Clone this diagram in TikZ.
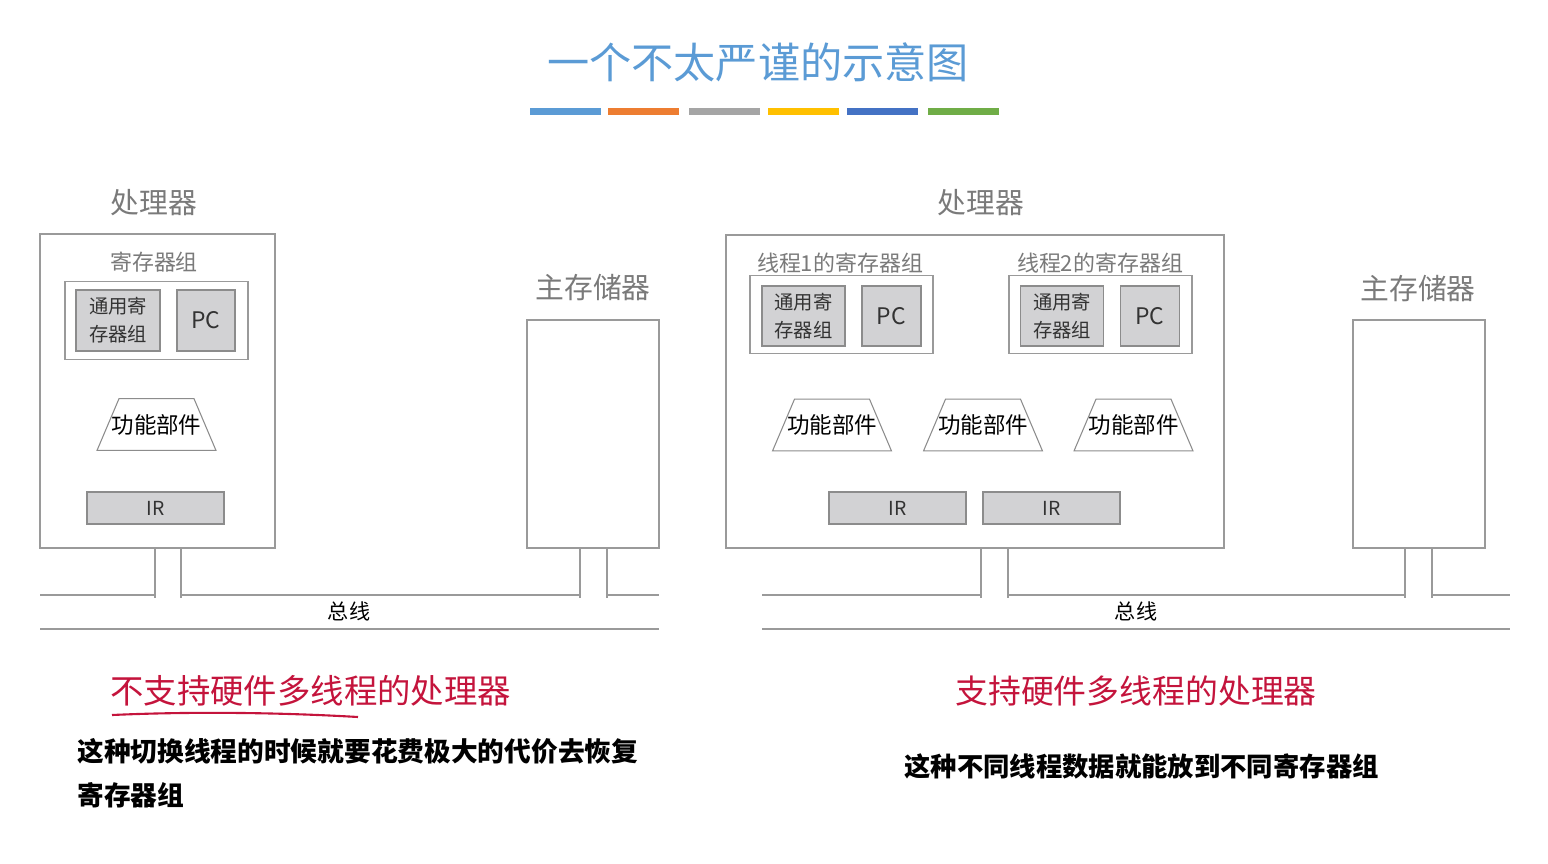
\documentclass[tikz,border=0pt]{standalone}
\usepackage{fontspec}
\setmainfont{Noto Sans CJK SC}
\usetikzlibrary{shapes.geometric, positioning}
\usepackage{xcolor}
\definecolor{TitleBlue}{HTML}{5B9BD5}
\definecolor{BarBlue}{HTML}{5B9BD5}
\definecolor{BarOrange}{HTML}{ED7D31}
\definecolor{BarGray}{HTML}{A5A5A5}
\definecolor{BarGold}{HTML}{FFC000}
\definecolor{BarNavy}{HTML}{4472C4}
\definecolor{BarGreen}{HTML}{70AD47}
\definecolor{LineGray}{HTML}{9A9A9A}
\definecolor{LabelGray}{HTML}{7A7A7A}
\definecolor{CellGray}{HTML}{D2D2D4}
\definecolor{CellEdge}{HTML}{8C8C8C}
\definecolor{CaptionRed}{HTML}{C4143C}
\tikzset{
    % Boxes - thin grey outlines
    cpubox/.style={
        rectangle,
        draw=LineGray,
        line width=0.8pt,
        fill=white
    },
    regbox/.style={
        rectangle,
        draw=LineGray,
        line width=0.8pt,
        fill=white,
        minimum width=3.66cm,
        minimum height=1.56cm
    },
    cell/.style={
        rectangle,
        draw=CellEdge,
        fill=CellGray,
        line width=0.6pt,
        align=center,
        text=black!80,
        font=\fontsize{11}{16}\selectfont
    },
    unit/.style={
        trapezium,
        trapezium angle=67,
        trapezium stretches body=true,
        draw=CellEdge,
        fill=white,
        line width=0.6pt,
        inner xsep=-0.15cm,
        inner ysep=0.31cm,
        font=\fontsize{12.8}{14}\selectfont
    },
    irbox/.style={
        cell,
        minimum width=2.74cm,
        minimum height=0.64cm,
        inner sep=0pt
    },
    membox/.style={
        cpubox,
        minimum width=2.64cm,
        minimum height=4.56cm
    },
    bigtitle/.style={
        text=LabelGray,
        font=\fontsize{16.4}{18}\selectfont
    },
    smalltitle/.style={
        text=LabelGray,
        font=\fontsize{12.5}{14}\selectfont
    },
    % Bus lines
    bus/.style={
        draw=LineGray,
        line width=0.8pt
    },
    bar/.style={
        line width=0.14cm
    }
}

\begin{document}
\begin{tikzpicture}[x=0.02cm, y=-0.02cm]
    \useasboundingbox (0,0) rectangle (1548,863);

    % Heading
    \node[text=TitleBlue, font=\fontsize{24}{28}\selectfont] (title) at (758,62) {一个不太严谨的示意图};
    \draw[bar, BarBlue]   (530,111) -- (601,111);
    \draw[bar, BarOrange] (608,111) -- (679,111);
    \draw[bar, BarGray]   (689,111) -- (760,111);
    \draw[bar, BarGold]   (768,111) -- (839,111);
    \draw[bar, BarNavy]   (847,111) -- (918,111);
    \draw[bar, BarGreen]  (928,111) -- (999,111);

    % Left: processor without hardware threads
    \node[bigtitle] (cpuLtitle) at (154,203) {处理器};
    \node[cpubox, minimum width=4.7cm, minimum height=6.28cm] (cpuL) at (157.5,391) {};
    \node[smalltitle] (regLtitle) at (154,262) {寄存器组};
    \node[regbox] (regL) at (156.5,320.5) {};
    \node[cell, minimum width=1.68cm, minimum height=1.22cm] (gprL) at (118,320.5) {通用寄\\存器组};
    \node[cell, minimum width=1.16cm, minimum height=1.22cm, font=\fontsize{13}{15}\selectfont] (pcL) at (206,320.5) {PC};
    \node[unit] (fuL) at (156.5,424.5) {功能部件};
    \node[irbox] (irL) at (155.5,508) {IR};

    \node[bigtitle] (memLtitle) at (593,288) {主存储器};
    \node[membox] (memL) at (593,434) {};

    % Left bus
    \coordinate (tapL1) at (155,598);
    \coordinate (tapL2) at (181,598);
    \coordinate (tapL3) at (580,598);
    \coordinate (tapL4) at (607,598);
    \draw[bus] (40,595) -- (tapL1 |- 0,595);
    \draw[bus] (tapL1 |- cpuL.south) -- (tapL1);
    \draw[bus] (tapL2 |- cpuL.south) -- (tapL2);
    \draw[bus] (tapL2 |- 0,595) -- (tapL3 |- 0,595);
    \draw[bus] (tapL3 |- memL.south) -- (tapL3);
    \draw[bus] (tapL4 |- memL.south) -- (tapL4);
    \draw[bus] (tapL4 |- 0,595) -- (659,595);
    \draw[bus] (40,629) -- (659,629);
    \node[font=\fontsize{12}{14}\selectfont] (busL) at (349,611) {总线};

    % Right: processor with hardware threads
    \node[bigtitle] (cpuRtitle) at (981,203) {处理器};
    \node[cpubox, minimum width=9.96cm, minimum height=6.26cm] (cpuR) at (975,391.5) {};
    \node[smalltitle] (regAtitle) at (840,263) {线程1的寄存器组};
    \node[regbox] (regA) at (841.5,314.5) {};
    \node[cell, minimum width=1.66cm, minimum height=1.2cm] (gprA) at (803.5,316) {通用寄\\存器组};
    \node[cell, minimum width=1.18cm, minimum height=1.2cm, font=\fontsize{13}{15}\selectfont] (pcA) at (891.5,316) {PC};
    \node[smalltitle] (regBtitle) at (1100,263) {线程2的寄存器组};
    \node[regbox] (regB) at (1100.5,314.5) {};
    \node[cell, minimum width=1.66cm, minimum height=1.2cm] (gprB) at (1062,316) {通用寄\\存器组};
    \node[cell, minimum width=1.18cm, minimum height=1.2cm, font=\fontsize{13}{15}\selectfont] (pcB) at (1150,316) {PC};
    \node[unit] (fuA) at (832,425) {功能部件};
    \node[unit] (fuB) at (983,425) {功能部件};
    \node[unit] (fuC) at (1133.5,425) {功能部件};
    \node[irbox] (irA) at (897.5,508) {IR};
    \node[irbox] (irB) at (1051.5,508) {IR};

    \node[bigtitle] (memRtitle) at (1418,289) {主存储器};
    \node[membox] (memR) at (1419,434) {};

    % Right bus
    \coordinate (tapR1) at (981,598);
    \coordinate (tapR2) at (1008,598);
    \coordinate (tapR3) at (1405,598);
    \coordinate (tapR4) at (1432,598);
    \draw[bus] (762,595) -- (tapR1 |- 0,595);
    \draw[bus] (tapR1 |- cpuR.south) -- (tapR1);
    \draw[bus] (tapR2 |- cpuR.south) -- (tapR2);
    \draw[bus] (tapR2 |- 0,595) -- (tapR3 |- 0,595);
    \draw[bus] (tapR3 |- memR.south) -- (tapR3);
    \draw[bus] (tapR4 |- memR.south) -- (tapR4);
    \draw[bus] (tapR4 |- 0,595) -- (1510,595);
    \draw[bus] (762,629) -- (1510,629);
    \node[font=\fontsize{12}{14}\selectfont] (busR) at (1136,611) {总线};

    % Captions
    \node[text=CaptionRed, font=\fontsize{19}{22}\selectfont, anchor=west, inner sep=0pt] (capL) at (110,691) {不支持硬件多线程的处理器};
    \draw[CaptionRed, line width=1.2pt] (112,715) .. controls (200,711) and (290,713) .. (358,717);
    \node[text=CaptionRed, font=\fontsize{18.7}{22}\selectfont] (capR) at (1136,691) {支持硬件多线程的处理器};

    \node[font=\bfseries\fontsize{15.2}{25}\selectfont, anchor=north west, inner sep=0pt, align=left] (noteL) at (77,738) {这种切换线程的时候就要花费极大的代价去恢复\\寄存器组};
    \node[font=\bfseries\fontsize{15}{18}\selectfont, anchor=west, inner sep=0pt] (noteR) at (904,766) {这种不同线程数据就能放到不同寄存器组};
\end{tikzpicture}
\end{document}
